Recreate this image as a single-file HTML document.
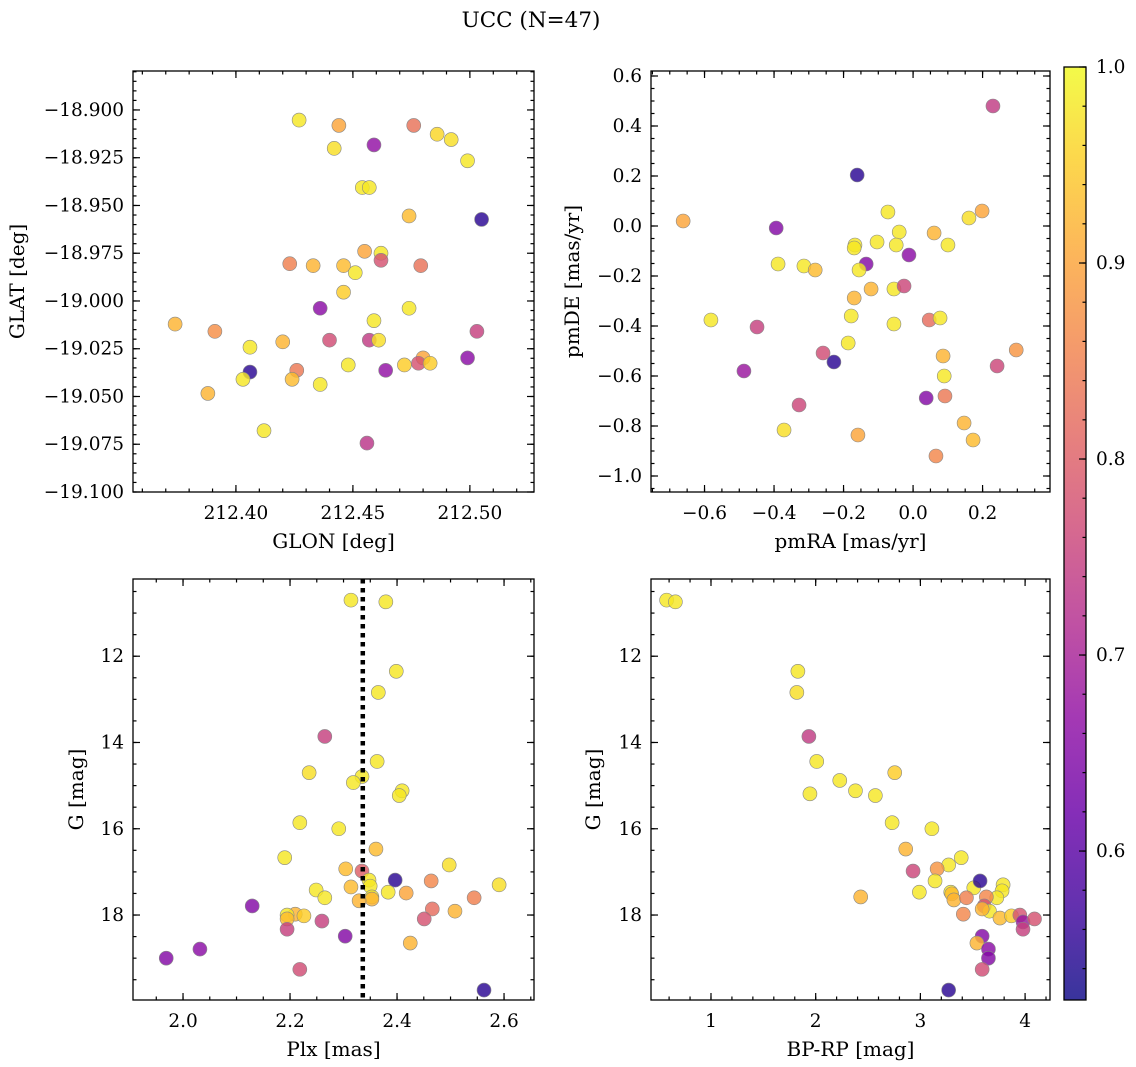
<!DOCTYPE html>
<html><head><meta charset="utf-8">
<style>
html,body{margin:0;padding:0;background:#fff;}
svg{display:block;font-family:"DejaVu Serif","Liberation Serif",serif;}
</style></head>
<body>
<svg id="chart" width="1136" height="1067" viewBox="0 0 1136 1067" xmlns="http://www.w3.org/2000/svg">
<defs>
<linearGradient id="plasma" x1="0" y1="1" x2="0" y2="0">
<stop offset="0" stop-color="#0d0887"/><stop offset="0.1" stop-color="#41049d"/><stop offset="0.2" stop-color="#6a00a8"/><stop offset="0.3" stop-color="#8f0da4"/><stop offset="0.4" stop-color="#b12a90"/><stop offset="0.5" stop-color="#cc4778"/><stop offset="0.6" stop-color="#e16462"/><stop offset="0.7" stop-color="#f2844b"/><stop offset="0.8" stop-color="#fca636"/><stop offset="0.9" stop-color="#fcce25"/><stop offset="1" stop-color="#f0f921"/>
</linearGradient>
</defs>
<text x="531" y="27" font-size="21.5" text-anchor="middle">UCC (N=47)</text>
</svg>
<script>
// Panel 1: GLON vs GLAT
const glonP1 = [212.427,212.444,212.476,212.486,212.492,212.442,212.459,212.499,212.454,212.457,212.505,212.474,212.455,212.462,212.462,212.423,212.433,212.446,212.451,212.479,212.446,212.474,212.436,212.459,212.374,212.391,212.440,212.457,212.461,212.503,212.406,212.420,212.406,212.426,212.424,212.403,212.480,212.478,212.472,212.483,212.464,212.499,212.448,212.436,212.388,212.412,212.456];
const glatP1 = [-18.9053,-18.9081,-18.9081,-18.9127,-18.9155,-18.9201,-18.9183,-18.9266,-18.9406,-18.9406,-18.9573,-18.9555,-18.9740,-18.9750,-18.9787,-18.9805,-18.9815,-18.9815,-18.9852,-18.9815,-18.9954,-19.0038,-19.0038,-19.0103,-19.0121,-19.0159,-19.0205,-19.0205,-19.0205,-19.0159,-19.0242,-19.0214,-19.0372,-19.0363,-19.0410,-19.0410,-19.0298,-19.0326,-19.0335,-19.0326,-19.0363,-19.0298,-19.0335,-19.0437,-19.0484,-19.0679,-19.0744];
const probP1 = [0.98,0.9,0.83,0.96,0.97,0.97,0.67,0.98,0.98,0.98,0.55,0.93,0.9,0.98,0.78,0.85,0.92,0.93,0.98,0.83,0.95,0.98,0.66,0.98,0.92,0.87,0.77,0.74,0.97,0.75,0.98,0.92,0.55,0.84,0.93,0.98,0.9,0.78,0.95,0.95,0.67,0.66,0.98,0.98,0.92,0.98,0.73];
// Panel 2: pmRA vs pmDE
const pmraP2 = [0.2299,-0.1608,-0.6615,-0.3938,-0.0723,0.1986,0.1608,-0.0399,0.0605,-0.1036,-0.1672,-0.1694,-0.0485,0.1004,-0.0118,-0.3884,-0.3140,-0.2816,-0.1349,-0.1554,-0.1208,-0.0550,-0.1694,-0.0259,-0.5816,-0.1780,-0.0550,0.0464,0.0777,-0.4489,-0.1867,-0.2590,0.0864,0.2968,-0.2277,0.2418,-0.4866,0.0896,0.0918,0.0378,-0.3280,0.1468,-0.3712,-0.1586,0.1727,0.0659];
const pmdeP2 = [0.48,0.204,0.02,-0.008,0.056,0.06,0.032,-0.024,-0.028,-0.064,-0.076,-0.088,-0.076,-0.076,-0.116,-0.152,-0.16,-0.176,-0.152,-0.176,-0.252,-0.252,-0.288,-0.24,-0.376,-0.36,-0.392,-0.376,-0.368,-0.404,-0.468,-0.508,-0.52,-0.496,-0.544,-0.56,-0.58,-0.6,-0.68,-0.688,-0.716,-0.788,-0.816,-0.836,-0.856,-0.92];
const probP2 = [0.74,0.55,0.9,0.65,0.98,0.9,0.97,0.98,0.92,0.98,0.98,0.98,0.98,0.98,0.66,0.98,0.98,0.93,0.65,0.98,0.92,0.98,0.92,0.76,0.98,0.98,0.98,0.82,0.98,0.75,0.98,0.77,0.92,0.88,0.55,0.76,0.68,0.98,0.84,0.65,0.76,0.92,0.97,0.9,0.93,0.86];
// Panel 3: Plx vs G
const plxP3 = [2.3139,2.3791,2.3986,2.3650,2.2650,2.3628,2.2357,2.3345,2.3183,2.4095,2.4041,2.2183,2.2911,2.3606,2.1901,2.4975,2.3041,2.3345,2.3476,2.3965,2.3498,2.5908,2.4638,2.3139,2.3834,2.2488,2.4171,2.3530,2.2650,2.3530,2.3291,2.5441,2.1293,2.4659,2.5083,2.2097,2.2260,2.1945,2.1945,2.4508,2.2596,2.1945,2.3031,2.4247,2.0316,1.9686,2.2183,2.5626];
const gP3 = [10.70,10.74,12.35,12.84,13.86,14.44,14.70,14.79,14.93,15.12,15.23,15.86,16.0,16.47,16.67,16.84,16.93,16.98,17.19,17.19,17.33,17.30,17.21,17.35,17.47,17.42,17.49,17.58,17.6,17.63,17.67,17.6,17.79,17.86,17.91,17.98,18.02,18.0,18.09,18.09,18.14,18.33,18.49,18.65,18.79,19.0,19.26,19.74];
const probP3 = [0.98,0.98,0.98,0.98,0.75,0.98,0.97,0.98,0.98,0.98,0.98,0.98,0.98,0.93,0.98,0.97,0.93,0.8,0.98,0.55,0.98,0.97,0.86,0.93,0.98,0.98,0.9,0.98,0.98,0.92,0.92,0.85,0.65,0.82,0.92,0.92,0.95,0.98,0.93,0.78,0.75,0.75,0.65,0.92,0.66,0.65,0.77,0.55];
const plxLine = [2.336];
// Panel 4: BP-RP vs G
const bprpP4 = [0.576,0.66,1.83,1.82,1.935,2.01,2.755,1.945,2.57,2.23,2.38,2.73,3.11,2.86,3.39,3.27,3.16,2.93,3.14,3.79,3.51,3.78,3.29,2.99,2.43,3.73,3.57,3.30,3.32,3.63,3.44,3.61,3.66,3.59,3.41,3.76,3.87,3.95,3.98,4.09,3.98,3.59,3.54,3.65,3.65,3.59,3.27];
const gP4 = [10.70,10.74,12.35,12.84,13.86,14.44,14.70,15.19,15.23,14.88,15.12,15.86,16.0,16.47,16.67,16.84,16.93,16.98,17.21,17.30,17.37,17.44,17.47,17.47,17.58,17.6,17.21,17.51,17.65,17.58,17.6,17.79,17.91,17.86,17.98,18.07,18.02,18.0,18.16,18.09,18.33,18.49,18.65,18.79,19.0,19.26,19.74];
const probP4 = [0.98,0.98,0.98,0.97,0.74,0.98,0.95,0.98,0.98,0.98,0.98,0.98,0.98,0.92,0.98,0.98,0.88,0.76,0.98,0.98,0.98,0.98,0.98,0.98,0.92,0.98,0.55,0.93,0.92,0.86,0.85,0.78,0.98,0.92,0.86,0.93,0.95,0.78,0.68,0.78,0.75,0.65,0.92,0.66,0.65,0.77,0.55];
// Colorbar
const cbTicks = [0.6,0.7,0.8,0.9,1.0];
const cbRange = [0.524,1.0];

const svg = document.getElementById('chart');
const NS = 'http://www.w3.org/2000/svg';
function mk(tag, attrs, parent){const e=document.createElementNS(NS,tag);for(const k in attrs)e.setAttribute(k,attrs[k]);(parent||svg).appendChild(e);return e;}
const stops=[[0,[13,8,135]],[0.1,[65,4,157]],[0.2,[106,0,168]],[0.3,[143,13,164]],[0.4,[177,42,144]],[0.5,[204,71,120]],[0.6,[225,100,98]],[0.7,[242,132,75]],[0.8,[252,166,54]],[0.9,[252,206,37]],[1,[240,249,33]]];
function plasma(v){let t=(v-cbRange[0])/(cbRange[1]-cbRange[0]);t=Math.max(0,Math.min(1,t));for(let i=1;i<stops.length;i++){if(t<=stops[i][0]){const a=stops[i-1],b=stops[i];const f=(t-a[0])/(b[0]-a[0]);const c=a[1].map((x,j)=>Math.round(x+(b[1][j]-x)*f));return `rgb(${c[0]},${c[1]},${c[2]})`;}}return 'rgb(240,249,33)';}

function panel(o){
  const {name,px0,px1,py0,py1,xmin,xmax,ymin,ymax,invertY,xMaj,xMin,yMaj,yMin,xfmt,yfmt,xlabel,ylabel,xs,ys,cs} = o;
  const g = mk('g',{});
  
  
  const X = v => px0 + (v-xmin)/(xmax-xmin)*(px1-px0);
  const Y = v => invertY ? py0 + (v-ymin)/(ymax-ymin)*(py1-py0) : py1 - (v-ymin)/(ymax-ymin)*(py1-py0);
  const step=(a,s)=>{const r=[];const st=Math.ceil(xmin/s-1e-6);for(let k=st;k*s<=xmax+1e-9;k++)r.push(k*s);return r;};
  const stepY=(s)=>{const r=[];const st=Math.ceil(ymin/s-1e-6);for(let k=st;k*s<=ymax+1e-9;k++)r.push(k*s);return r;};
  const ticks = mk('g',{stroke:'#000','stroke-width':1.2},g);
  
  
  step(0,xMin).forEach(v=>{const x=X(v);mk('line',{x1:x,x2:x,y1:py1,y2:py1-3.5},ticks);mk('line',{x1:x,x2:x,y1:py0,y2:py0+3.5},ticks);});
  stepY(yMin).forEach(v=>{const y=Y(v);mk('line',{x1:px0,x2:px0+3.5,y1:y,y2:y},ticks);mk('line',{x1:px1,x2:px1-3.5,y1:y,y2:y},ticks);});
  step(0,xMaj).forEach(v=>{const x=X(v);mk('line',{x1:x,x2:x,y1:py1,y2:py1-7},ticks);mk('line',{x1:x,x2:x,y1:py0,y2:py0+7},ticks);
    const t=mk('text',{x:x,y:py1+27,'font-size':18.5,'text-anchor':'middle',stroke:'none',fill:'#000'},g);t.textContent=xfmt(v);
    
    });
  stepY(yMaj).forEach(v=>{const y=Y(v);mk('line',{x1:px0,x2:px0+7,y1:y,y2:y},ticks);mk('line',{x1:px1,x2:px1-7,y1:y,y2:y},ticks);
    const t=mk('text',{x:px0-9,y:y+6,'font-size':18.5,'text-anchor':'end',fill:'#000'},g);t.textContent=yfmt(v);
    
    });
  const pts = mk('g',{},g);
  
  
  const n=Math.min(xs.length,ys.length,cs.length);
  for(let i=0;i<n;i++){
    const c=mk('circle',{cx:X(xs[i]),cy:Y(ys[i]),r:7,fill:plasma(cs[i]),'fill-opacity':0.82,stroke:'#888','stroke-width':0.6},pts);
    
    
  }
  if(o.vline){o.vline.forEach(v=>{const l=mk('line',{x1:X(v),x2:X(v),y1:py0,y2:py1,stroke:'#000','stroke-width':4.5,'stroke-dasharray':'4.5 4.5'},g);
    
    });}
  const frame=mk('rect',{x:px0,y:py0,width:px1-px0,height:py1-py0,fill:'none',stroke:'#000','stroke-width':1.3},g);
  
  
  const xl=mk('text',{x:(px0+px1)/2,y:py1+56,'font-size':20,'text-anchor':'middle'},g);xl.textContent=xlabel;
  
  
  const yx=o.ylabX, yy=(py0+py1)/2;
  const yl=mk('text',{x:yx,y:yy,'font-size':20,'text-anchor':'middle',transform:`rotate(-90 ${yx} ${yy})`},g);yl.textContent=ylabel;
  
  
}
const f=(d)=>v=>{let s=v.toFixed(d);if(s.startsWith('-'))s='\u2212'+s.slice(1);if(/^\u22120(\.0+)?$/.test(s))s=s.slice(1);return s;};
panel({name:'glon-glat-panel',px0:133,px1:534,py0:71,py1:492,xmin:212.356,xmax:212.5274,ymin:-19.1,ymax:-18.8796,xMaj:0.05,xMin:0.01,yMaj:0.025,yMin:0.005,xfmt:f(2),yfmt:f(3),xlabel:'GLON [deg]',ylabel:'GLAT [deg]',ylabX:24,xs:glonP1,ys:glatP1,cs:probP1});
panel({name:'proper-motion-panel',px0:651,px1:1050,py0:71,py1:492,xmin:-0.754,xmax:0.394,ymin:-1.064,ymax:0.62,xMaj:0.2,xMin:0.05,yMaj:0.2,yMin:0.05,xfmt:f(1),yfmt:f(1),xlabel:'pmRA [mas/yr]',ylabel:'pmDE [mas/yr]',ylabX:579,xs:pmraP2,ys:pmdeP2,cs:probP2});
panel({name:'plx-g-panel',px0:133,px1:534,py0:579,py1:1000,xmin:1.9065,xmax:2.656,ymin:10.21,ymax:19.97,invertY:true,xMaj:0.2,xMin:0.05,yMaj:2,yMin:0.5,xfmt:f(1),yfmt:f(0),xlabel:'Plx [mas]',ylabel:'G [mag]',ylabX:83,xs:plxP3,ys:gP3,cs:probP3,vline:plxLine});
panel({name:'cmd-panel',px0:651,px1:1050,py0:579,py1:1000,xmin:0.427,xmax:4.238,ymin:10.21,ymax:19.97,invertY:true,xMaj:1,xMin:0.2,yMaj:2,yMin:0.5,xfmt:f(0),yfmt:f(0),xlabel:'BP-RP [mag]',ylabel:'G [mag]',ylabX:600,xs:bprpP4,ys:gP4,cs:probP4});

// colorbar
const cb=mk('g',{});


const cx0=1064,cx1=1086,cy0=67,cy1=1000;
const cbr=mk('rect',{x:cx0,y:cy0,width:cx1-cx0,height:cy1-cy0,fill:'url(#plasma)','fill-opacity':0.82},cb);


const CY=v=>cy1-(v-cbRange[0])/(cbRange[1]-cbRange[0])*(cy1-cy0);
for(let k=Math.ceil(cbRange[0]/0.02);k*0.02<=cbRange[1]+1e-9;k++){const y=CY(k*0.02);mk('line',{x1:cx1,x2:cx1-3.5,y1:y,y2:y,stroke:'#000','stroke-width':1.2},cb);}
cbTicks.forEach(v=>{const y=CY(v);mk('line',{x1:cx1,x2:cx1-7,y1:y,y2:y,stroke:'#000','stroke-width':1.2},cb);
  const t=mk('text',{x:cx1+10,y:y+6,'font-size':18.5},cb);t.textContent=v.toFixed(1);
  
  });
const cbf=mk('rect',{x:cx0,y:cy0,width:cx1-cx0,height:cy1-cy0,fill:'none',stroke:'#000','stroke-width':1.3},cb);


</script>
</body></html>
